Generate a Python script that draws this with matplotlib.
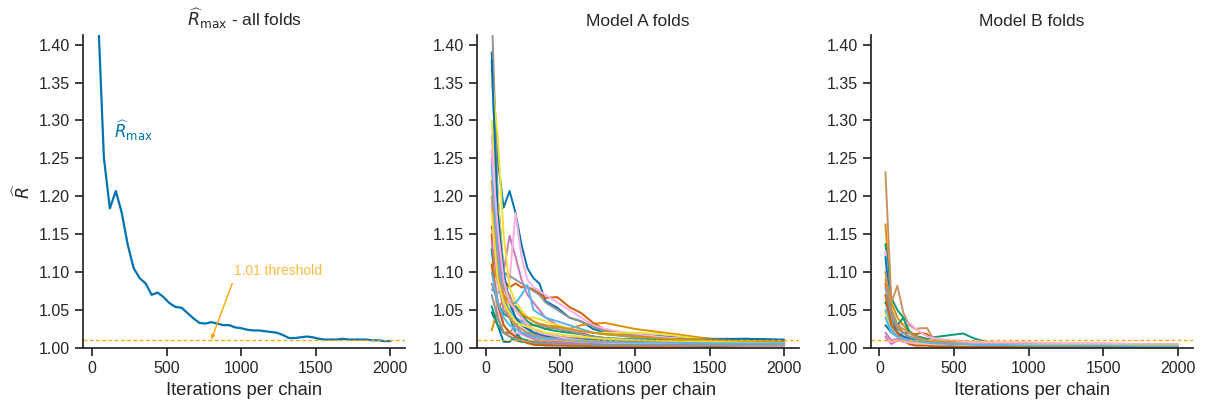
import matplotlib
matplotlib.use("Agg")
import matplotlib.pyplot as plt
import seaborn as sns
import numpy as np

sns.set_theme(style="ticks", palette="colorblind")
plt.rcParams['font.family'] = ['Liberation Sans', 'DejaVu Sans']

# R-hat max over all folds, one value every 40 iterations
rmax_iters = list(range(40, 2001, 40))
rmax_vals = [1.445, 1.251, 1.184, 1.207, 1.178, 1.136, 1.105, 1.092, 1.085, 1.070,
             1.073, 1.067, 1.059, 1.054, 1.053, 1.046, 1.039, 1.033, 1.032, 1.034,
             1.032, 1.030, 1.030, 1.027, 1.026, 1.024, 1.023, 1.023, 1.022, 1.021,
             1.020, 1.017, 1.013, 1.013, 1.014, 1.015, 1.014, 1.012, 1.011, 1.011,
             1.011, 1.012, 1.011, 1.011, 1.011, 1.011, 1.010, 1.010, 1.009, 1.009]

# per-fold R-hat traces
fold_iters = [40, 80, 120, 160, 200, 240, 280, 320, 360, 400,
              480, 560, 640, 720, 800, 1000, 1200, 1500, 1750, 2000]

model_a_folds = [
    [1.390, 1.250, 1.185, 1.207, 1.178, 1.136, 1.105, 1.092, 1.085, 1.062, 1.053, 1.040, 1.035, 1.025, 1.020, 1.018, 1.015, 1.012, 1.012, 1.010],
    [1.220, 1.120, 1.060, 1.050, 1.040, 1.035, 1.030, 1.030, 1.028, 1.025, 1.028, 1.025, 1.030, 1.032, 1.033, 1.025, 1.020, 1.012, 1.010, 1.008],
    [1.130, 1.060, 1.045, 1.040, 1.020, 1.012, 1.010, 1.008, 1.007, 1.006, 1.006, 1.005, 1.005, 1.005, 1.005, 1.004, 1.004, 1.004, 1.004, 1.004],
    [1.160, 1.120, 1.090, 1.080, 1.085, 1.080, 1.080, 1.077, 1.072, 1.066, 1.067, 1.054, 1.046, 1.033, 1.024, 1.015, 1.012, 1.010, 1.008, 1.007],
    [1.370, 1.200, 1.100, 1.148, 1.120, 1.090, 1.070, 1.060, 1.050, 1.040, 1.030, 1.025, 1.020, 1.015, 1.012, 1.010, 1.008, 1.007, 1.006, 1.006],
    [1.260, 1.120, 1.070, 1.050, 1.040, 1.030, 1.025, 1.020, 1.020, 1.018, 1.015, 1.013, 1.012, 1.010, 1.010, 1.008, 1.007, 1.006, 1.006, 1.005],
    [1.280, 1.150, 1.100, 1.090, 1.178, 1.120, 1.090, 1.080, 1.075, 1.070, 1.060, 1.050, 1.040, 1.030, 1.025, 1.018, 1.014, 1.010, 1.008, 1.006],
    [1.450, 1.200, 1.100, 1.095, 1.090, 1.085, 1.080, 1.075, 1.070, 1.060, 1.050, 1.040, 1.035, 1.028, 1.022, 1.016, 1.012, 1.009, 1.008, 1.007],
    [1.360, 1.280, 1.150, 1.080, 1.060, 1.050, 1.040, 1.040, 1.038, 1.035, 1.030, 1.025, 1.022, 1.020, 1.020, 1.020, 1.018, 1.010, 1.008, 1.007],
    [1.077, 1.072, 1.081, 1.060, 1.059, 1.070, 1.083, 1.050, 1.045, 1.040, 1.035, 1.030, 1.025, 1.020, 1.018, 1.014, 1.012, 1.010, 1.008, 1.007],
    [1.047, 1.030, 1.008, 1.008, 1.015, 1.020, 1.018, 1.015, 1.014, 1.013, 1.012, 1.012, 1.012, 1.012, 1.011, 1.011, 1.011, 1.011, 1.012, 1.011],
    [1.023, 1.050, 1.065, 1.040, 1.030, 1.025, 1.020, 1.020, 1.018, 1.015, 1.013, 1.012, 1.010, 1.010, 1.009, 1.008, 1.007, 1.006, 1.006, 1.005],
    [1.130, 1.090, 1.060, 1.050, 1.055, 1.045, 1.035, 1.030, 1.028, 1.025, 1.022, 1.020, 1.018, 1.015, 1.013, 1.011, 1.010, 1.008, 1.008, 1.007],
    [1.150, 1.040, 1.020, 1.020, 1.015, 1.010, 1.008, 1.004, 1.004, 1.003, 1.003, 1.003, 1.003, 1.002, 1.002, 1.002, 1.002, 1.002, 1.002, 1.002],
    [1.250, 1.140, 1.080, 1.060, 1.040, 1.030, 1.025, 1.020, 1.018, 1.015, 1.012, 1.010, 1.009, 1.008, 1.008, 1.007, 1.006, 1.006, 1.005, 1.005],
    [1.100, 1.105, 1.080, 1.070, 1.050, 1.040, 1.030, 1.025, 1.020, 1.018, 1.015, 1.013, 1.012, 1.011, 1.010, 1.009, 1.008, 1.007, 1.006, 1.006],
    [1.190, 1.050, 1.030, 1.020, 1.020, 1.018, 1.015, 1.012, 1.010, 1.008, 1.006, 1.005, 1.004, 1.004, 1.003, 1.003, 1.003, 1.002, 1.002, 1.002],
    [1.085, 1.060, 1.030, 1.020, 1.030, 1.035, 1.040, 1.035, 1.030, 1.028, 1.025, 1.022, 1.018, 1.015, 1.013, 1.010, 1.008, 1.007, 1.006, 1.006],
    [1.300, 1.200, 1.100, 1.050, 1.040, 1.030, 1.025, 1.020, 1.015, 1.012, 1.010, 1.010, 1.009, 1.008, 1.008, 1.007, 1.006, 1.006, 1.005, 1.005],
    [1.240, 1.120, 1.060, 1.050, 1.040, 1.035, 1.030, 1.020, 1.018, 1.015, 1.013, 1.012, 1.010, 1.009, 1.008, 1.007, 1.006, 1.006, 1.005, 1.005],
    [1.380, 1.180, 1.100, 1.060, 1.040, 1.030, 1.025, 1.020, 1.018, 1.016, 1.014, 1.012, 1.011, 1.010, 1.010, 1.009, 1.008, 1.007, 1.006, 1.006],
    [1.110, 1.090, 1.070, 1.060, 1.050, 1.045, 1.040, 1.035, 1.032, 1.030, 1.028, 1.025, 1.022, 1.020, 1.018, 1.015, 1.012, 1.010, 1.009, 1.008],
    [1.055, 1.030, 1.020, 1.015, 1.010, 1.008, 1.008, 1.007, 1.007, 1.006, 1.006, 1.005, 1.005, 1.005, 1.004, 1.004, 1.004, 1.003, 1.003, 1.003],
    [1.110, 1.060, 1.030, 1.020, 1.015, 1.010, 1.006, 1.005, 1.004, 1.004, 1.004, 1.003, 1.003, 1.003, 1.003, 1.003, 1.003, 1.003, 1.003, 1.003],
    [1.140, 1.090, 1.050, 1.040, 1.030, 1.020, 1.015, 1.012, 1.010, 1.009, 1.008, 1.007, 1.006, 1.006, 1.005, 1.005, 1.004, 1.004, 1.004, 1.004],
    [1.200, 1.100, 1.060, 1.040, 1.030, 1.025, 1.020, 1.018, 1.015, 1.013, 1.012, 1.011, 1.010, 1.009, 1.008, 1.007, 1.006, 1.006, 1.005, 1.005],
    [1.260, 1.160, 1.090, 1.060, 1.050, 1.040, 1.030, 1.025, 1.020, 1.018, 1.015, 1.012, 1.010, 1.008, 1.007, 1.006, 1.005, 1.004, 1.003, 1.003],
    [1.070, 1.040, 1.020, 1.015, 1.012, 1.010, 1.008, 1.007, 1.006, 1.006, 1.005, 1.005, 1.005, 1.004, 1.004, 1.004, 1.004, 1.004, 1.004, 1.004],
    [1.180, 1.090, 1.060, 1.045, 1.035, 1.030, 1.028, 1.025, 1.023, 1.020, 1.018, 1.016, 1.015, 1.013, 1.012, 1.010, 1.009, 1.008, 1.007, 1.006],
    [1.100, 1.060, 1.040, 1.030, 1.025, 1.020, 1.018, 1.015, 1.013, 1.012, 1.011, 1.010, 1.009, 1.008, 1.008, 1.007, 1.007, 1.006, 1.006, 1.006],
]

model_b_folds = [
    [1.030, 1.020, 1.015, 1.012, 1.010, 1.008, 1.007, 1.006, 1.005, 1.005, 1.004, 1.004, 1.004, 1.003, 1.003, 1.003, 1.003, 1.002, 1.002, 1.002],
    [1.163, 1.050, 1.030, 1.020, 1.015, 1.012, 1.010, 1.008, 1.007, 1.006, 1.005, 1.005, 1.004, 1.004, 1.004, 1.004, 1.004, 1.004, 1.004, 1.004],
    [1.137, 1.066, 1.050, 1.040, 1.022, 1.016, 1.014, 1.012, 1.014, 1.015, 1.017, 1.019, 1.012, 1.008, 1.006, 1.005, 1.005, 1.004, 1.004, 1.003],
    [1.085, 1.040, 1.025, 1.020, 1.020, 1.018, 1.020, 1.018, 1.012, 1.010, 1.008, 1.006, 1.005, 1.005, 1.004, 1.004, 1.003, 1.003, 1.003, 1.003],
    [1.015, 1.005, 1.010, 1.008, 1.006, 1.005, 1.005, 1.004, 1.004, 1.004, 1.003, 1.003, 1.003, 1.003, 1.003, 1.003, 1.003, 1.002, 1.002, 1.002],
    [1.232, 1.060, 1.082, 1.046, 1.030, 1.025, 1.026, 1.026, 1.012, 1.010, 1.008, 1.007, 1.006, 1.006, 1.005, 1.005, 1.005, 1.004, 1.004, 1.004],
    [1.128, 1.032, 1.030, 1.031, 1.033, 1.026, 1.020, 1.015, 1.013, 1.012, 1.010, 1.009, 1.008, 1.008, 1.007, 1.007, 1.006, 1.006, 1.005, 1.005],
    [1.060, 1.030, 1.020, 1.015, 1.010, 1.008, 1.007, 1.006, 1.005, 1.005, 1.004, 1.004, 1.004, 1.003, 1.003, 1.003, 1.003, 1.003, 1.003, 1.003],
    [1.100, 1.030, 1.020, 1.010, 1.008, 1.006, 1.005, 1.005, 1.004, 1.004, 1.004, 1.003, 1.003, 1.003, 1.003, 1.003, 1.004, 1.004, 1.003, 1.003],
    [1.050, 1.025, 1.015, 1.020, 1.012, 1.010, 1.008, 1.007, 1.006, 1.006, 1.005, 1.005, 1.004, 1.004, 1.004, 1.003, 1.003, 1.003, 1.003, 1.002],
    [1.120, 1.040, 1.020, 1.015, 1.012, 1.010, 1.008, 1.007, 1.006, 1.005, 1.005, 1.004, 1.004, 1.004, 1.003, 1.003, 1.003, 1.003, 1.003, 1.003],
    [1.090, 1.060, 1.040, 1.030, 1.020, 1.015, 1.012, 1.010, 1.009, 1.008, 1.007, 1.006, 1.005, 1.005, 1.005, 1.004, 1.004, 1.004, 1.004, 1.004],
    [1.060, 1.050, 1.030, 1.040, 1.020, 1.015, 1.012, 1.010, 1.008, 1.007, 1.006, 1.005, 1.005, 1.004, 1.004, 1.004, 1.003, 1.003, 1.003, 1.003],
    [1.070, 1.030, 1.020, 1.010, 1.005, 1.003, 1.003, 1.003, 1.002, 1.002, 1.002, 1.002, 1.002, 1.002, 1.002, 1.002, 1.002, 1.002, 1.002, 1.002],
    [1.020, 1.010, 1.012, 1.010, 1.008, 1.007, 1.006, 1.005, 1.005, 1.004, 1.004, 1.004, 1.004, 1.004, 1.004, 1.004, 1.004, 1.004, 1.004, 1.004],
    [1.100, 1.050, 1.030, 1.025, 1.020, 1.015, 1.012, 1.010, 1.009, 1.008, 1.007, 1.006, 1.006, 1.005, 1.005, 1.005, 1.005, 1.005, 1.005, 1.005],
    [1.010, 1.008, 1.010, 1.008, 1.007, 1.006, 1.006, 1.005, 1.005, 1.005, 1.005, 1.006, 1.007, 1.007, 1.007, 1.007, 1.006, 1.006, 1.005, 1.005],
    [1.080, 1.040, 1.025, 1.020, 1.015, 1.012, 1.010, 1.008, 1.007, 1.006, 1.005, 1.005, 1.004, 1.004, 1.004, 1.004, 1.004, 1.003, 1.003, 1.003],
    [1.045, 1.020, 1.015, 1.012, 1.010, 1.008, 1.007, 1.006, 1.006, 1.005, 1.005, 1.004, 1.004, 1.004, 1.004, 1.004, 1.004, 1.004, 1.003, 1.003],
    [1.040, 1.020, 1.015, 1.012, 1.010, 1.009, 1.008, 1.007, 1.006, 1.006, 1.005, 1.005, 1.004, 1.004, 1.004, 1.003, 1.003, 1.003, 1.002, 1.002],
]

threshold = 1.01

fig, axes = plt.subplots(1, 3, figsize=(12.07, 4.05), dpi=100)
fig.subplots_adjust(left=0.069, right=0.988, bottom=0.141, top=0.914, wspace=0.224)

ax = axes[0]
ax.plot(rmax_iters, rmax_vals, lw=1.6)
ax.text(147, 1.287, r'$\widehat{R}_{\mathrm{max}}$', color='C0', fontsize=12,
        va='center')
ax.annotate('1.01 threshold', xy=(800, 1.011), xytext=(955, 1.102),
            color='orange', alpha=0.75, fontsize=10, va='center',
            arrowprops=dict(arrowstyle='-|>', color='orange', lw=1,
                            mutation_scale=6, shrinkA=2, shrinkB=0,
                            relpos=(0.0, 0.0)))
ax.set_title(r'$\widehat{R}_{\max}$ - all folds', fontsize=12.5)
ax.set_ylabel(r'$\widehat{R}$', fontsize=12.5)

for ax, folds, title in [(axes[1], model_a_folds, 'Model A folds'),
                         (axes[2], model_b_folds, 'Model B folds')]:
    for f in folds:
        ax.plot(fold_iters, f, lw=1.4)
    ax.set_title(title, fontsize=12.5)

for ax in axes:
    ax.axhline(threshold, color='orange', ls='--', lw=0.9, dashes=(3, 2))
    ax.set_ylim(1.0, 1.413)
    ax.set_yticks(np.arange(1.0, 1.401, 0.05))
    ax.set_xticks([0, 500, 1000, 1500, 2000])
    ax.set_xlabel('Iterations per chain', fontsize=13.2)
    ax.tick_params(labelsize=11.5)
    sns.despine(ax=ax)

fig.savefig('out.png')
